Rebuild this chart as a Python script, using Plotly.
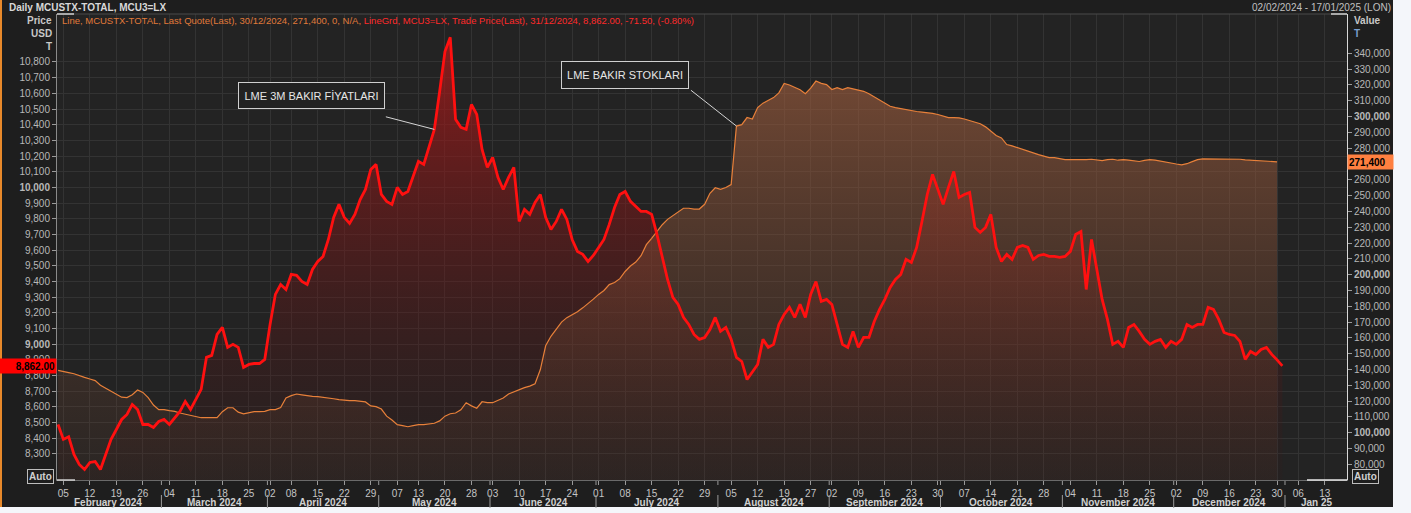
import plotly.graph_objects as go
import pandas as pd

# ---------------- data ----------------
# LME trading calendar (UK holidays removed)
holidays = ["2024-03-29", "2024-04-01", "2024-05-06", "2024-05-27",
            "2024-08-26", "2024-12-25", "2025-01-01"]
start_date = "2024-02-02"
end_date = "2025-01-17"

# LME 3M copper price, USD/t (one value per trading day from 02/02/2024 to 31/12/2024)
price = [
    8488, 8393, 8410, 8297, 8233, 8201, 8246, 8252, 8201, 8297,
    8393, 8456, 8520, 8552, 8616, 8584, 8488, 8488, 8469, 8507,
    8520, 8488, 8533, 8571, 8635, 8584, 8648, 8712, 8916, 8929,
    9062, 9107, 8980, 8999, 8980, 8852, 8871, 8877, 8877, 8903,
    9126, 9318, 9381, 9349, 9445, 9439, 9400, 9381, 9477, 9528,
    9560, 9668, 9809, 9892, 9809, 9770, 9828, 9923, 9987, 10115,
    10147, 9955, 9911, 9892, 10000, 9955, 9974, 10064, 10166, 10147,
    10255, 10370, 10612, 10867, 10957, 10434, 10383, 10370, 10529, 10466,
    10242, 10128, 10191, 10064, 9987, 10064, 10128, 9783, 9860, 9828,
    9904, 9955, 9809, 9732, 9783, 9860, 9796, 9668, 9592, 9573,
    9528, 9566, 9617, 9668, 9764, 9872, 9955, 9974, 9911, 9879,
    9847, 9847, 9828, 9700, 9554, 9413, 9299, 9254, 9171, 9126,
    9062, 9031, 9043, 9094, 9171, 9082, 9107, 9031, 8916, 8890,
    8775, 8826, 8871, 9031, 8980, 8999, 9126, 9190, 9235, 9171,
    9254, 9171, 9318, 9400, 9273, 9286, 9254, 9126, 8999, 8980,
    9082, 8980, 9043, 9043, 9145, 9222, 9286, 9362, 9413, 9445,
    9541, 9522, 9617, 9783, 9955, 10083, 9987, 9892, 10000, 10102,
    9936, 9955, 9968, 9745, 9713, 9745, 9828, 9617, 9528, 9573,
    9541, 9617, 9630, 9617, 9541, 9566, 9573, 9560, 9560, 9554,
    9560, 9592, 9700, 9719, 9349, 9668, 9477, 9286, 9158, 8999,
    9018, 8980, 9107, 9126, 9082, 9031, 8999, 9018, 9031, 8980,
    9018, 8999, 9031, 9126, 9107, 9126, 9126, 9235, 9222, 9158,
    9075, 9062, 9056, 9018, 8903, 8954, 8935, 8967, 8980, 8935,
    8900, 8862,
]

# LME copper stocks, thousand tonnes (02/02/2024 to 30/12/2024)
stocks_kt = [
    139.5, 138.6, 138.0, 137.3, 136.0, 135.0, 134.0, 133.0, 130.0, 128.0,
    126.0, 124.5, 122.5, 122.2, 124.0, 127.0, 125.5, 122.2, 117.5, 114.6,
    114.6, 114.0, 113.5, 112.5, 111.8, 111.0, 110.0, 109.5, 109.5, 109.5,
    109.5, 113.3, 115.8, 115.8, 113.0, 112.0, 112.5, 113.3, 113.3, 113.5,
    114.6, 114.6, 116.0, 122.0, 123.5, 124.5, 124.0, 123.4, 123.0, 122.8,
    122.5, 122.2, 121.5, 120.9, 120.5, 120.3, 120.3, 120.0, 119.5, 117.0,
    116.5, 115.0, 110.5, 108.0, 105.1, 104.5, 103.8, 104.5, 105.1, 105.1,
    105.5, 106.0, 107.5, 110.5, 112.0, 112.5, 114.5, 119.0, 117.0, 115.5,
    119.6, 119.0, 119.0, 120.5, 122.0, 124.5, 126.0, 127.5, 128.5, 129.5,
    131.0, 140.0, 155.0, 161.0, 165.5, 170.0, 172.8, 174.5, 176.6, 179.0,
    181.5, 184.5, 187.5, 190.0, 193.7, 195.0, 197.5, 202.0, 205.5, 208.0,
    212.0, 219.0, 223.0, 227.5, 231.6, 235.0, 237.5, 239.9, 242.0, 242.0,
    241.5, 241.5, 244.5, 251.5, 255.0, 254.0, 255.1, 257.0, 294.0, 294.9,
    299.4, 298.5, 305.7, 308.5, 310.5, 312.0, 315.0, 321.0, 320.0, 318.5,
    317.0, 314.5, 318.0, 322.5, 321.0, 320.2, 317.1, 318.3, 317.1, 318.3,
    317.5, 317.1, 316.0, 314.5, 312.5, 310.8, 309.0, 306.5, 305.7, 305.0,
    304.4, 303.8, 303.2, 302.8, 302.5, 302.0, 301.3, 300.5, 299.4, 299.4,
    299.2, 298.5, 297.5, 296.8, 295.5, 293.5, 291.0, 288.0, 286.5, 282.3,
    281.5, 280.4, 279.0, 277.8, 276.8, 275.9, 275.0, 274.0, 274.0, 273.5,
    272.8, 272.8, 272.8, 272.5, 272.8, 273.0, 272.6, 272.2, 272.8, 273.0,
    272.4, 272.8, 272.5, 272.0, 271.6, 272.3, 272.8, 272.5, 271.8, 271.2,
    270.5, 270.0, 269.5, 270.2, 271.5, 272.8, 273.3, 273.3, 273.0, 273.3,
    273.3, 273.0, 273.3, 273.0, 272.6, 272.4, 272.2, 272.0, 271.8, 271.6,
    271.4,
]

price_ticks = list(range(8300, 10801, 100))
stock_ticks = list(range(80000, 340001, 10000))

header_title = "Daily MCUSTX-TOTAL, MCU3=LX"
header_range = "02/02/2024 - 17/01/2025 (LON)"
legend_stock = "Line, MCUSTX-TOTAL, Last Quote(Last), 30/12/2024, 271,400, 0, N/A, "
legend_price = "LineGrd, MCU3=LX, Trade Price(Last), 31/12/2024, 8,862.00, -71.50, (-0.80%)"
label_price = "LME 3M BAKIR FİYATLARI"
label_stock = "LME BAKIR STOKLARI"
price_last_label = "8,862.00"
stock_last_label = "271,400"

# ---------------- derived ----------------
dates = pd.bdate_range(start_date, end_date, freq="C", holidays=holidays)
cats = [d.strftime("%Y-%m-%d") for d in dates]
stocks = [v * 1000 for v in stocks_kt]
price_x = cats[:len(price)]
stock_x = cats[:len(stocks)]

# weekly ticks: first trading day of each week (skip partial first week)
tick_idx, prev = [], None
for i, d in enumerate(dates):
    wk = tuple(d.isocalendar())[:2]
    if wk != prev:
        tick_idx.append(i)
        prev = wk
tick_idx = tick_idx[1:]
tickvals = [cats[i] for i in tick_idx]
ticktext = [dates[i].strftime("%d") for i in tick_idx]

months = {}
for i, d in enumerate(dates):
    months.setdefault((d.year, d.month), []).append(i)

# ---------------- geometry helpers ----------------
W, H = 1411, 513
ML, MR, MT, MB = 57, 64, 14, 33
PW, PH = W - ML - MR, H - MT - MB


def px2x(px):
    return (px - ML) / PW


def py2y(py):
    return (H - MB - py) / PH


FONT = "Liberation Sans, Arial, sans-serif"
P_RANGE = [8134, 11106]
S_RANGE = [70100, 364900]
X_RANGE = [-0.2, 243.2]

fig = go.Figure()

# dummy trace registering all categories (incl. future dates)
fig.add_trace(go.Scatter(x=cats, y=[None] * len(cats), mode="lines",
                         showlegend=False, hoverinfo="skip", yaxis="y"))

# red fill (price) under everything
fig.add_trace(go.Scatter(
    x=price_x, y=price, mode="none", fill="tozeroy", yaxis="y",
    fillgradient=dict(type="vertical",
                      colorscale=[[0, "rgba(60,20,20,0.10)"], [1, "rgba(175,26,26,0.75)"]],
                      start=P_RANGE[0], stop=max(price)),
    showlegend=False, hoverinfo="skip"))

# stock area
fig.add_trace(go.Scatter(
    x=stock_x, y=stocks, mode="lines", fill="tozeroy", yaxis="y2",
    line=dict(color="#e8803a", width=1.2),
    fillgradient=dict(type="vertical",
                      colorscale=[[0, "rgba(110,65,45,0.10)"], [1, "rgba(160,94,62,0.64)"]],
                      start=S_RANGE[0], stop=330000),
    showlegend=False, hoverinfo="skip"))

# red price line on top
fig.add_trace(go.Scatter(
    x=price_x, y=price, mode="lines", yaxis="y3",
    line=dict(color="#ff1010", width=2.8),
    showlegend=False, hoverinfo="skip"))

tickfont = dict(family=FONT, size=10, color="#b8b8b8")


def fmt(v, bold_every):
    s = f"{v:,}"
    return f"<b>{s}</b>" if v % bold_every == 0 else s


fig.update_layout(
    template="none",
    width=W, height=H,
    margin=dict(l=ML, r=MR, t=MT, b=MB, pad=0, autoexpand=False),
    paper_bgcolor="#f4f6fa",
    plot_bgcolor="#232323",
    hovermode=False,
    showlegend=False,
    font=dict(family=FONT, size=10, color="#c8c8c8"),
    xaxis=dict(type="category", categoryorder="array", categoryarray=cats,
               range=X_RANGE, autorange=False, automargin=False,
               tickmode="array", tickvals=tickvals, ticktext=ticktext,
               ticks="outside", ticklen=4, tickcolor="#9a9a9a", tickangle=0,
               tickfont=dict(family=FONT, size=10, color="#c4c4c4"),
               showgrid=True, gridcolor="#333333", gridwidth=1,
               showline=True, linecolor="#6a6a6a", linewidth=1, zeroline=False),
    yaxis=dict(range=P_RANGE, autorange=False, automargin=False, side="left",
               tickmode="array", tickvals=price_ticks,
               ticktext=[fmt(v, 1000) for v in price_ticks],
               ticks="outside", ticklen=4, tickcolor="#9a9a9a", tickfont=tickfont,
               showgrid=True, gridcolor="#333333", gridwidth=1,
               showline=True, linecolor="#8a8a8a", linewidth=1, zeroline=False),
    yaxis2=dict(range=S_RANGE, autorange=False, automargin=False, side="right",
                overlaying="y", tickmode="array",
                tickvals=stock_ticks, ticktext=[fmt(v, 100000) for v in stock_ticks],
                ticks="outside", ticklen=4, tickcolor="#9a9a9a", tickfont=tickfont,
                showgrid=False, showline=True, linecolor="#d8d8d8", linewidth=1,
                zeroline=False),
    yaxis3=dict(range=P_RANGE, autorange=False, overlaying="y", visible=False),
)

shapes = []
# dark canvas (leaves white strip at bottom and right as in the screenshot)
shapes.append(dict(type="rect", xref="paper", yref="paper",
                   x0=px2x(0), x1=px2x(1393), y0=py2y(507), y1=py2y(0),
                   fillcolor="#1e1e1e", line=dict(width=0), layer="below"))
shapes.append(dict(type="rect", xref="paper", yref="paper", x0=0, x1=1, y0=0, y1=1,
                   fillcolor="#232323", line=dict(width=0), layer="below"))
# orange window edge
shapes.append(dict(type="rect", xref="paper", yref="paper",
                   x0=px2x(0), x1=px2x(2), y0=py2y(507), y1=py2y(0),
                   fillcolor="#e8892b", line=dict(width=0), layer="above"))
# top frame line
shapes.append(dict(type="line", xref="paper", yref="paper", x0=0, x1=1, y0=1, y1=1,
                   line=dict(color="#4a4a4a", width=1)))
# white corner brackets
for (a, b, yy) in [(57, 74, 14), (1331, 1347, 14), (57, 75, 480), (1307, 1347, 480)]:
    shapes.append(dict(type="line", xref="paper", yref="paper",
                       x0=px2x(a), x1=px2x(b), y0=py2y(yy), y1=py2y(yy),
                       line=dict(color="#e8e8e8", width=1.3)))

annotations = []
# month labels and separators
keys = sorted(months)
for k_i, k in enumerate(keys):
    idx = months[k]
    y_, m_ = k
    if y_ == 2025:
        name = pd.Timestamp(year=y_, month=m_, day=1).strftime("%b %y")
    else:
        name = pd.Timestamp(year=y_, month=m_, day=1).strftime("%B %Y")
    mid = (idx[0] + min(idx[-1], X_RANGE[1])) / 2
    annotations.append(dict(x=mid, y=py2y(502), xref="x", yref="paper", text=f"<b>{name}</b>",
                            showarrow=False, font=dict(family=FONT, size=10, color="#d0d0d0"),
                            xanchor="center", yanchor="middle"))
    if k_i > 0:
        sep = idx[0] - 0.5
        shapes.append(dict(type="line", xref="x", yref="paper", x0=sep, x1=sep,
                           y0=py2y(481), y1=py2y(485), line=dict(color="#9a9a9a", width=1)))
        shapes.append(dict(type="line", xref="x", yref="paper", x0=sep, x1=sep,
                           y0=py2y(495), y1=py2y(508), line=dict(color="#9a9a9a", width=1)))


def txt(px, py, text, size=10, color="#c8c8c8", xanchor="left", **kw):
    annotations.append(dict(x=px2x(px), y=py2y(py), xref="paper", yref="paper", text=text,
                            showarrow=False, xanchor=xanchor, yanchor="middle",
                            font=dict(family=FONT, size=size, color=color), **kw))


txt(7, 7, f"<b>{header_title}</b>", size=10, color="#d8d8d8")
txt(1393, 7, header_range, size=10, color="#c0c0c0", xanchor="right")
txt(60, 20, f"<span style='color:#e07a3a'>{legend_stock}</span>"
            f"<span style='color:#ff2a2a'>{legend_price}</span>", size=9.5)
txt(54, 20, "<b>Price</b>", xanchor="right")
txt(54, 33, "<b>USD</b>", xanchor="right")
txt(54, 46, "<b>T</b>", xanchor="right")
txt(1352, 20, "<b>Value</b>")
txt(1352, 33, "<b>T</b>", color="#7aa0d0")

# Auto buttons
for ax_ in (40, 1365):
    txt(ax_, 476, "<b>Auto</b>", size=10, color="#d0d0d0", xanchor="center",
        bordercolor="#bdbdbd", borderwidth=1, borderpad=1, bgcolor="#1e1e1e")

# last value markers on axes
annotations.append(dict(x=0, y=price[-1], xref="paper", yref="y", xanchor="right",
                        yanchor="middle", text=f"<b>{price_last_label}</b>", showarrow=False,
                        bgcolor="#ff0000", width=54, height=12, align="right", borderpad=1,
                        font=dict(family=FONT, size=10, color="#000000")))
annotations.append(dict(x=1, y=stocks[-1], xref="paper", yref="y2", xanchor="left",
                        yanchor="middle", text=f"<b>{stock_last_label}</b>", showarrow=False,
                        bgcolor="#ff8040", width=43, height=12, align="left", borderpad=1,
                        font=dict(family=FONT, size=10, color="#000000")))

# callout boxes
txt(311.5, 95.5, label_price, size=11, color="#e6e6e6", xanchor="center",
    bgcolor="#222222", bordercolor="#cfcfcf", borderwidth=1, borderpad=2, width=141, height=21)
txt(625, 75, label_stock, size=11, color="#e6e6e6", xanchor="center",
    bgcolor="#222222", bordercolor="#cfcfcf", borderwidth=1, borderpad=2, width=122, height=22)

# callout leader lines
annotations.append(dict(x=71, y=price[71], xref="x", yref="y", text="", showarrow=True,
                        arrowhead=0, arrowwidth=1, arrowcolor="#d4d4d4", ax=-50, ay=-13,
                        standoff=0))
annotations.append(dict(x=128, y=stocks[128], xref="x", yref="y2", text="", showarrow=True,
                        arrowhead=0, arrowwidth=1, arrowcolor="#d4d4d4", ax=-47, ay=-37,
                        standoff=0))

fig.update_layout(shapes=shapes, annotations=annotations)
fig.write_html(
    "out.html",
    config={"displayModeBar": False, "staticPlot": True},
    post_script="document.body.style.margin='0';document.body.style.padding='0';"
                "document.body.style.overflow='hidden';",
)
